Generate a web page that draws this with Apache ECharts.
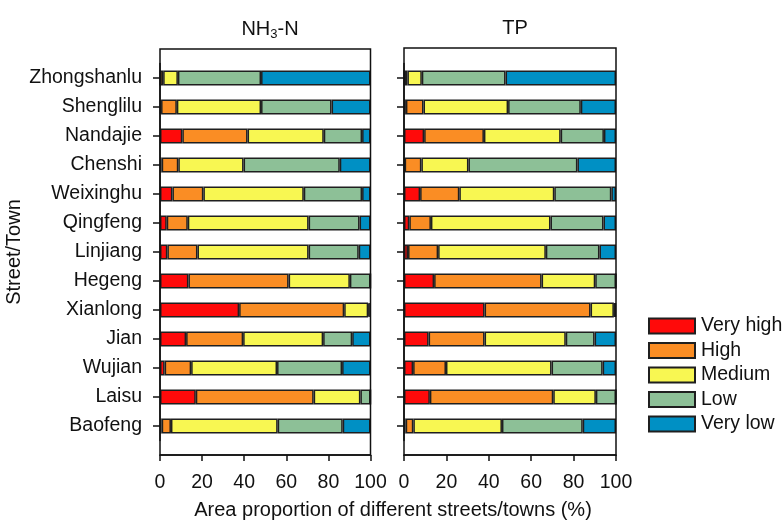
<!DOCTYPE html>
<html>
<head>
<meta charset="utf-8">
<script src="https://cdn.jsdelivr.net/npm/echarts@6/dist/echarts.min.js"></script>
<style>
  html, body { margin: 0; padding: 0; background: #fff; }
  #chart { width: 783px; height: 520px; }
</style>
</head>
<body>
<div id="chart"></div>
<script>
// categories, top to bottom
const streets = ['Zhongshanlu', 'Shenglilu', 'Nandajie', 'Chenshi', 'Weixinghu', 'Qingfeng',
  'Linjiang', 'Hegeng', 'Xianlong', 'Jian', 'Wujian', 'Laisu', 'Baofeng'];
const levels = ['Very high', 'High', 'Medium', 'Low', 'Very low'];
const xTicks = [0, 20, 40, 60, 80, 100];

// NH3-N area proportion (%)
const nhVeryHigh = [0, 0.5, 10.6, 0.8, 5.9, 3.2, 3.5, 13.5, 37.6, 12.4, 2.2, 17, 0.8];
const nhHigh = [1.5, 7.5, 31, 7.9, 14.7, 10, 14.3, 47.6, 49.9, 27.1, 12.6, 56, 4.4];
const nhMedium = [7, 40, 36.2, 31, 47.7, 57.4, 52.8, 29.1, 11.4, 38, 40.8, 22.2, 50.7];
const nhLow = [39.5, 33.5, 18.2, 45.7, 27.7, 24.2, 23.8, 9.8, 0.6, 13.8, 30.9, 4.8, 30.9];
const nhVeryLow = [52, 18.5, 4, 14.6, 4, 5.2, 5.6, 0, 0.5, 8.7, 13.5, 0, 13.2];

// TP area proportion (%)
const tpVeryHigh = [0.3, 0.9, 9.5, 0.3, 7.6, 2.5, 1.9, 14.2, 38, 11.6, 4.3, 12.2, 0.8];
const tpHigh = [1.3, 8.3, 28.2, 7.9, 18.5, 10.2, 14.2, 50.7, 50, 26.4, 15.5, 58.2, 3.6];
const tpMedium = [6.8, 39.9, 36.2, 22.2, 44.8, 56.4, 50.8, 25.3, 11, 38.3, 49.8, 20.1, 41.8];
const tpLow = [39.5, 34.3, 20.4, 51.4, 26.9, 25, 25.3, 9.8, 0.5, 13.6, 24.1, 9.5, 38.1];
const tpVeryLow = [52.1, 16.6, 5.7, 18.2, 2.2, 5.9, 7.8, 0, 0.5, 10.1, 6.3, 0, 15.7];

const colors = ['#ff0a0a', '#fa8d24', '#f8f752', '#8dc097', '#0090c4'];
const font = 'Liberation Sans, Arial, sans-serif';
const ink = '#111';

const nhData = [nhVeryHigh, nhHigh, nhMedium, nhLow, nhVeryLow];
const tpData = [tpVeryHigh, tpHigh, tpMedium, tpLow, tpVeryLow];

function makeSeries(data, idx, stack) {
  return levels.map((name, i) => ({
    name: name,
    type: 'bar',
    stack: stack,
    xAxisIndex: idx,
    yAxisIndex: idx,
    barWidth: 15,
    itemStyle: { color: colors[i], borderColor: '#1f1f1f', borderWidth: 1.5 },
    emphasis: { disabled: true },
    data: data[i]
  }));
}

function xAxisOf(idx) {
  return {
    type: 'value',
    gridIndex: idx,
    min: xTicks[0],
    max: xTicks[xTicks.length - 1],
    interval: xTicks[1] - xTicks[0],
    offset: 14.5,
    axisLine: { show: true, lineStyle: { color: ink, width: 1.5 } },
    axisTick: { show: true, length: 6, lineStyle: { color: ink, width: 1.5 } },
    axisLabel: { color: ink, fontSize: 19.5, fontFamily: font, margin: 18 },
    splitLine: { show: false }
  };
}

function yAxisOf(idx, showLabels) {
  return {
    type: 'category',
    gridIndex: idx,
    inverse: true,
    data: streets,
    axisLine: { show: true, lineStyle: { color: ink, width: 1.5 } },
    axisTick: { show: true, alignWithLabel: true, length: 7, lineStyle: { color: ink, width: 1.5 } },
    axisLabel: { show: showLabels, color: ink, fontSize: 19.5, fontFamily: font, margin: 18 },
    splitLine: { show: false }
  };
}

const chart = echarts.init(document.getElementById('chart'));

const option = {
  animation: false,
  backgroundColor: '#fff',
  title: [
    {
      text: '{a|NH}{b|3}{a|-N}',
      left: 265, top: 14, textAlign: 'center',
      textStyle: {
        fontWeight: 'normal',
        rich: {
          a: { fontSize: 20, fontWeight: 'normal', fontFamily: font, color: ink, lineHeight: 22, verticalAlign: 'top' },
          b: { fontSize: 13, fontWeight: 'normal', fontFamily: font, color: ink, lineHeight: 13, verticalAlign: 'bottom', padding: [12, 0, 0, 0] }
        }
      }
    },
    {
      text: 'TP', left: 510, top: 13, textAlign: 'center',
      textStyle: { fontSize: 20, fontWeight: 'normal', fontFamily: font, color: ink }
    },
    {
      text: 'Area proportion of different streets/towns (%)', left: 388, top: 495, textAlign: 'center',
      textStyle: { fontSize: 20, fontWeight: 'normal', fontFamily: font, color: ink }
    }
  ],
  legend: {
    orient: 'vertical',
    left: 643,
    top: 311,
    itemWidth: 46,
    itemHeight: 15,
    itemGap: 4.5,
    icon: 'rect',
    data: levels,
    selectedMode: false,
    textStyle: { fontSize: 19.5, fontFamily: font, color: ink, padding: [0, 0, 0, 1] }
  },
  grid: [
    { left: 160, top: 63.5, width: 210.5, height: 377 },
    { left: 404, top: 63.5, width: 212, height: 377 }
  ],
  xAxis: [xAxisOf(0), xAxisOf(1)],
  yAxis: [
    Object.assign(yAxisOf(0, true), {
      name: 'Street/Town',
      nameLocation: 'middle',
      nameGap: 136,
      nameTextStyle: { fontSize: 20, fontFamily: font, color: ink }
    }),
    yAxisOf(1, false)
  ],
  graphic: [
    { type: 'rect', shape: { x: 160, y: 49, width: 210.5, height: 406 }, style: { fill: null, stroke: ink, lineWidth: 1.5 }, z: 100, silent: true },
    { type: 'rect', shape: { x: 404, y: 48, width: 212, height: 407 }, style: { fill: null, stroke: ink, lineWidth: 1.5 }, z: 100, silent: true }
  ],
  series: makeSeries(nhData, 0, 'nh').concat(makeSeries(tpData, 1, 'tp'))
};

chart.setOption(option);
window.onresize = () => chart.resize();
</script>
</body>
</html>
